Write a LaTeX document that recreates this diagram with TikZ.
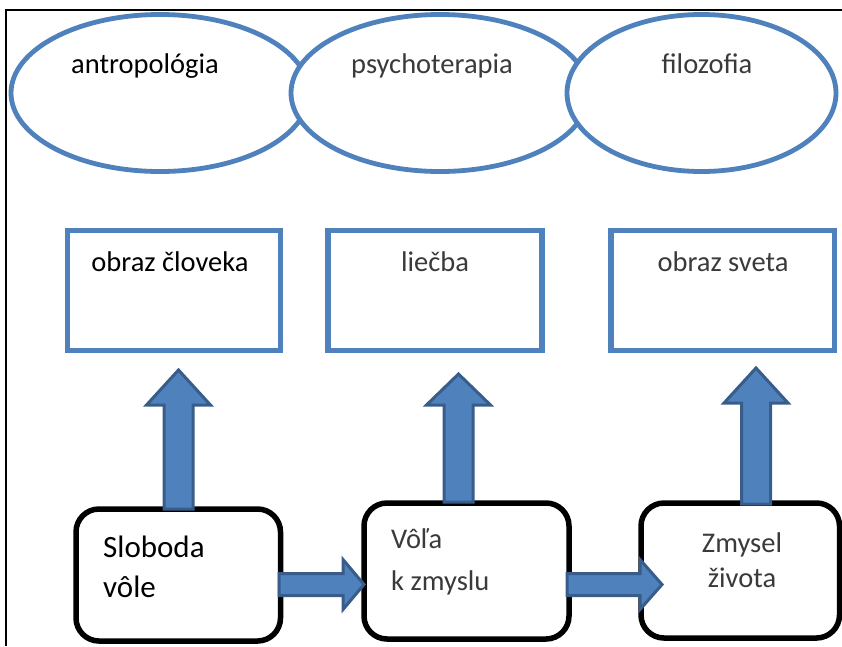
\documentclass[tikz,border=0pt]{standalone}
\usepackage{fontspec}
\setmainfont{Carlito}
\usetikzlibrary{shapes.geometric}
\definecolor{oblue}{HTML}{4F81BD}
\definecolor{odark}{HTML}{385D8A}
\definecolor{tgray}{HTML}{3A3A3A}
\tikzset{
  ell/.style={ellipse, draw=oblue, line width=4.8pt, fill=white, inner sep=0pt, outer sep=0pt},
  topbox/.style={rectangle, draw=oblue, line width=5.5pt, fill=white, inner sep=0pt, outer sep=0pt},
  mainbox/.style={rectangle, rounded corners=23pt, draw=black, line width=5.5pt, fill=white, inner sep=0pt, outer sep=0pt},
  lbl/.style={font=\fontsize{28.5}{34}\selectfont, inner sep=0pt, anchor=base},
  lblbig/.style={font=\fontsize{31}{37}\selectfont, inner sep=0pt, anchor=base west},
  blockarrow/.style={fill=oblue, draw=odark, line width=3pt, line join=miter},
}
\newcommand\upblock[4]{%
  \draw[blockarrow] (#1-14.5,#4) -- (#1-14.5,#3) -- (#1-32,#3) -- (#1,#2)
    -- (#1+32,#3) -- (#1+14.5,#3) -- (#1+14.5,#4) -- cycle;}
\newcommand\rightblock[4]{%
  \draw[blockarrow] (#2,#1-11) -- (#3,#1-11) -- (#3,#1-25) -- (#4,#1)
    -- (#3,#1+25) -- (#3,#1+11) -- (#2,#1+11) -- cycle;}
\begin{document}
\begin{tikzpicture}[x=1pt,y=-1pt]
\useasboundingbox (0,0) rectangle (842,646);
% frame
\draw[line width=1.3pt] (6,646) -- (6,10) -- (842,10);
% ellipses
\node[ell, minimum width=298pt, minimum height=157pt] (e1) at (160,93) {};
\node[ell, minimum width=298pt, minimum height=157pt] (e2) at (440,93) {};
\node[ell, minimum width=269pt, minimum height=157pt] (e3) at (701.5,93) {};
\node[lbl, text=black] (t1) at (145,73) {antropológia};
\node[lbl, text=tgray] (t2) at (432,73) {psychoterapia};
\node[lbl, text=tgray] (t3) at (707,73) {filozofia};
% top boxes
\node[topbox, minimum width=213pt, minimum height=120pt] (r1) at (174,290.5) {};
\node[topbox, minimum width=214pt, minimum height=120pt] (r2) at (435,290.5) {};
\node[topbox, minimum width=223.5pt, minimum height=120pt] (r3) at (722.75,290.5) {};
\node[lbl, text=black] (s1) at (170,271) {obraz človeka};
\node[lbl, text=tgray] (s2) at (435,271) {liečba};
\node[lbl, text=tgray] (s3) at (723,271) {obraz sveta};
% bottom boxes
\node[mainbox, minimum width=204.5pt, minimum height=132pt] (b1) at (178.25,575) {};
\node[mainbox, minimum width=205pt, minimum height=136pt] (b2) at (466.5,571) {};
\node[mainbox, minimum width=198.5pt, minimum height=135pt] (b3) at (740.25,570.5) {};
\node[lblbig, text=black] (u1a) at (103,557) {Sloboda};
\node[lblbig, text=black] (u1b) at (103,597) {vôle};
\node[lbl, anchor=base west, text=tgray] (u2a) at (391,548) {Vôľa};
\node[lbl, anchor=base west, text=tgray] (u2b) at (391,590) {k zmyslu};
\node[lbl, text=tgray] (u3a) at (742,552) {Zmysel};
\node[lbl, text=tgray] (u3b) at (742,587) {života};
% block arrows
\upblock{178.5}{370}{405}{509}
\upblock{458.5}{374}{405}{502}
\upblock{756}{368}{403}{504}
\rightblock{584.5}{279}{343}{364}
\rightblock{584.5}{567}{640}{662}
\end{tikzpicture}
\end{document}
